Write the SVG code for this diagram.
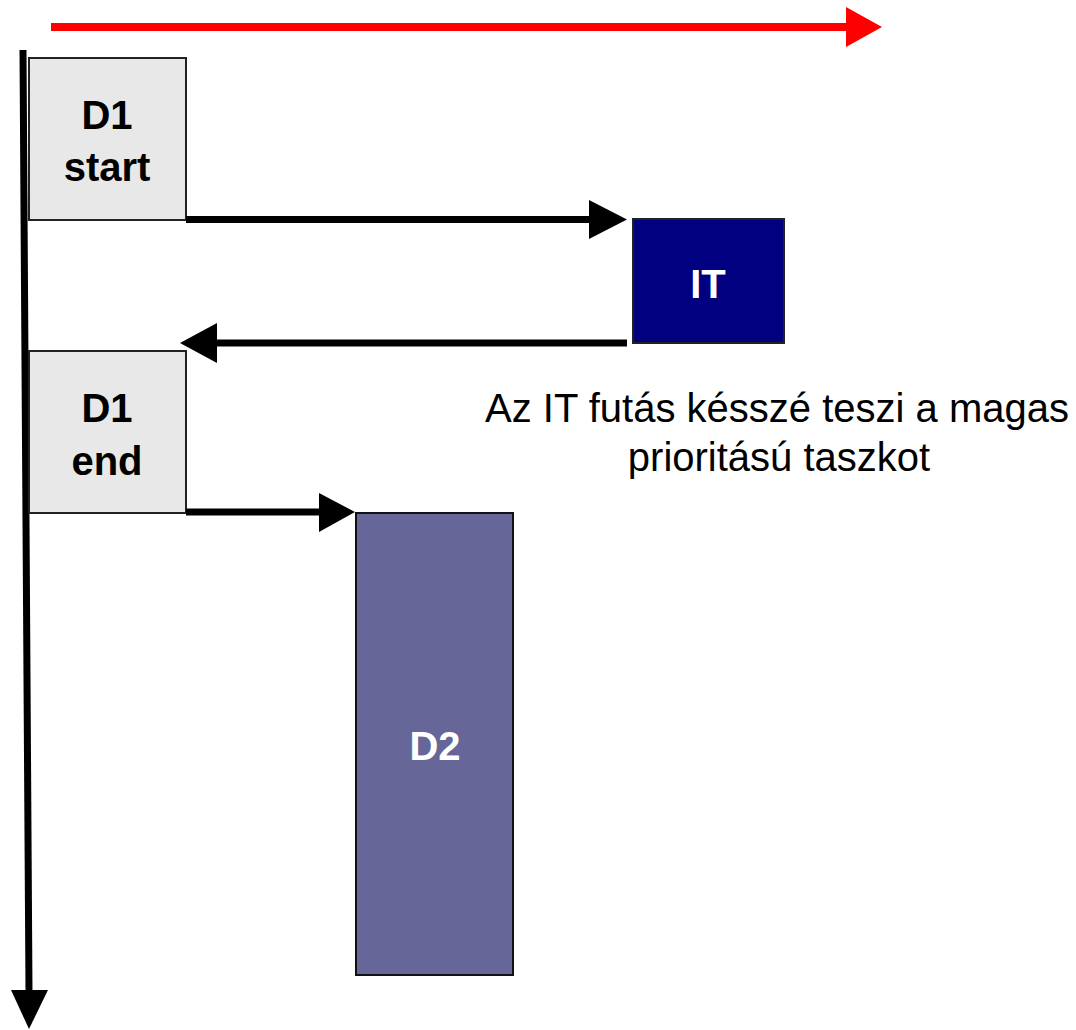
<svg xmlns="http://www.w3.org/2000/svg" width="1076" height="1030" viewBox="0 0 1076 1030">
  <style>
    .lbl { font-family: "Liberation Sans", Arial, sans-serif; font-weight: bold; font-size: 40px; text-anchor: middle; }
    .note { font-family: "Liberation Sans", Arial, sans-serif; font-size: 40px; text-anchor: middle; fill: #000; }
    .step { fill: #e8e8e8; stroke: #222; stroke-width: 2; }
    .conn { stroke: #000; stroke-width: 7; fill: none; }
  </style>
  <rect width="1076" height="1030" fill="#fff"/>

  <!-- time axes -->
  <g id="axes">
    <line x1="51" y1="27" x2="848" y2="27" stroke="#ff0000" stroke-width="8"/>
    <polygon points="846,7 882,27 846,47" fill="#ff0000"/>
    <line x1="23" y1="50" x2="29" y2="992" stroke="#000" stroke-width="7"/>
    <polygon points="11,990 48,990 29,1029" fill="#000"/>
  </g>

  <g id="d1-start">
    <rect class="step" x="29" y="58" width="157" height="162"/>
    <text class="lbl" x="107" y="129">D1</text>
    <text class="lbl" x="107" y="181">start</text>
  </g>

  <g id="it">
    <rect x="633" y="219" width="151" height="124" fill="#000080" stroke="#222" stroke-width="2"/>
    <text class="lbl" x="708" y="298" fill="#fff">IT</text>
  </g>

  <g id="d1-end">
    <rect class="step" x="29" y="351" width="157" height="162"/>
    <text class="lbl" x="107" y="422">D1</text>
    <text class="lbl" x="107" y="475">end</text>
  </g>

  <g id="d2">
    <rect x="356" y="513" width="157" height="462" fill="#666699" stroke="#111" stroke-width="2"/>
    <text class="lbl" x="435" y="760" fill="#fff">D2</text>
  </g>

  <g id="note">
    <text class="note" x="777" y="422">Az IT futás késszé teszi a magas</text>
    <text class="note" x="779" y="471">prioritású taszkot</text>
  </g>

  <g id="connectors">
    <line class="conn" x1="186" y1="219.5" x2="592" y2="219.5"/>
    <polygon points="589,200 627,219.5 589,239" fill="#000"/>
    <line class="conn" x1="627" y1="343" x2="214" y2="343"/>
    <polygon points="217,323 180,343 217,363" fill="#000"/>
    <line class="conn" x1="186" y1="512" x2="322" y2="512"/>
    <polygon points="319,493 355,512 319,532" fill="#000"/>
  </g>
</svg>
